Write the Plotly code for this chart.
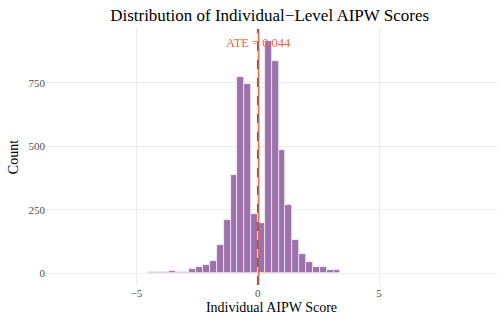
import plotly.graph_objects as go

# Histogram data
bin_start = -7.912
bin_width = 0.283
counts = [1, 0, 1, 2, 0, 2, 1, 0, 1, 1,
          1, 3, 5, 5, 4, 9, 4, 7, 16, 25,
          34, 47, 110, 211, 389, 771, 746, 234, 198, 916,
          837, 486, 271, 133, 77, 45, 26, 25, 12, 12,
          3, 2, 3, 2, 3, 1, 1, 0, 1, 0,
          1, 0, 0, 1, 0, 0, 0, 0, 0, 1]
ate = 0.044
x_ticks = [-5, 0, 5]
x_ticktext = ["\u22125", "0", "5"]
y_ticks = [0, 250, 500, 750]

centers = [bin_start + bin_width * (i + 0.5) for i in range(len(counts))]

serif = "Liberation Serif, Times New Roman, serif"
red = "#E9623F"

fig = go.Figure()
fig.add_trace(go.Bar(
    x=centers, y=counts, width=bin_width,
    marker=dict(color="#9C71AC", line=dict(color="rgba(255,255,255,0.85)", width=0.7)),
    hoverinfo="skip", showlegend=False,
))

fig.add_shape(type="line", xref="x", yref="paper", x0=ate, x1=ate, y0=0, y1=1,
              line=dict(color=red, width=1.4), layer="above")
fig.add_shape(type="line", xref="x", yref="paper", x0=0, x1=0, y0=0, y1=1,
              line=dict(color="#666666", width=1.5, dash="dash"), layer="above")

fig.add_annotation(x=ate, y=907, xref="x", yref="y", text=f"ATE = {ate:.3f}",
                   showarrow=False, font=dict(family=serif, size=12.5, color=red),
                   xanchor="center", yanchor="middle")

fig.update_layout(
    width=504, height=324,
    margin=dict(l=46, r=7, t=29, b=39),
    paper_bgcolor="white", plot_bgcolor="white",
    bargap=0,
    title=dict(text="Distribution of Individual\u2212Level AIPW Scores",
               x=0.535, xanchor="center", y=0.955, yanchor="middle",
               font=dict(family=serif, size=17, color="black")),
    font=dict(family=serif),
)
fig.update_xaxes(range=[-8.726, 9.864], tickvals=x_ticks, ticktext=x_ticktext,
                 showgrid=True, gridcolor="#EBEBEB", gridwidth=1, zeroline=False,
                 showline=False, ticks="", tickfont=dict(family=serif, size=11, color="#4D4D4D"),
                 title=dict(text="Individual AIPW Score", font=dict(family=serif, size=14, color="black"),
                            standoff=4))
fig.update_yaxes(range=[-45.8, 961.8], tickvals=y_ticks,
                 showgrid=True, gridcolor="#EBEBEB", gridwidth=1, zeroline=False,
                 showline=False, ticks="", tickfont=dict(family=serif, size=11, color="#4D4D4D"),
                 title=dict(text="Count", font=dict(family=serif, size=14, color="black"),
                            standoff=6))

fig.write_html("out.html")
